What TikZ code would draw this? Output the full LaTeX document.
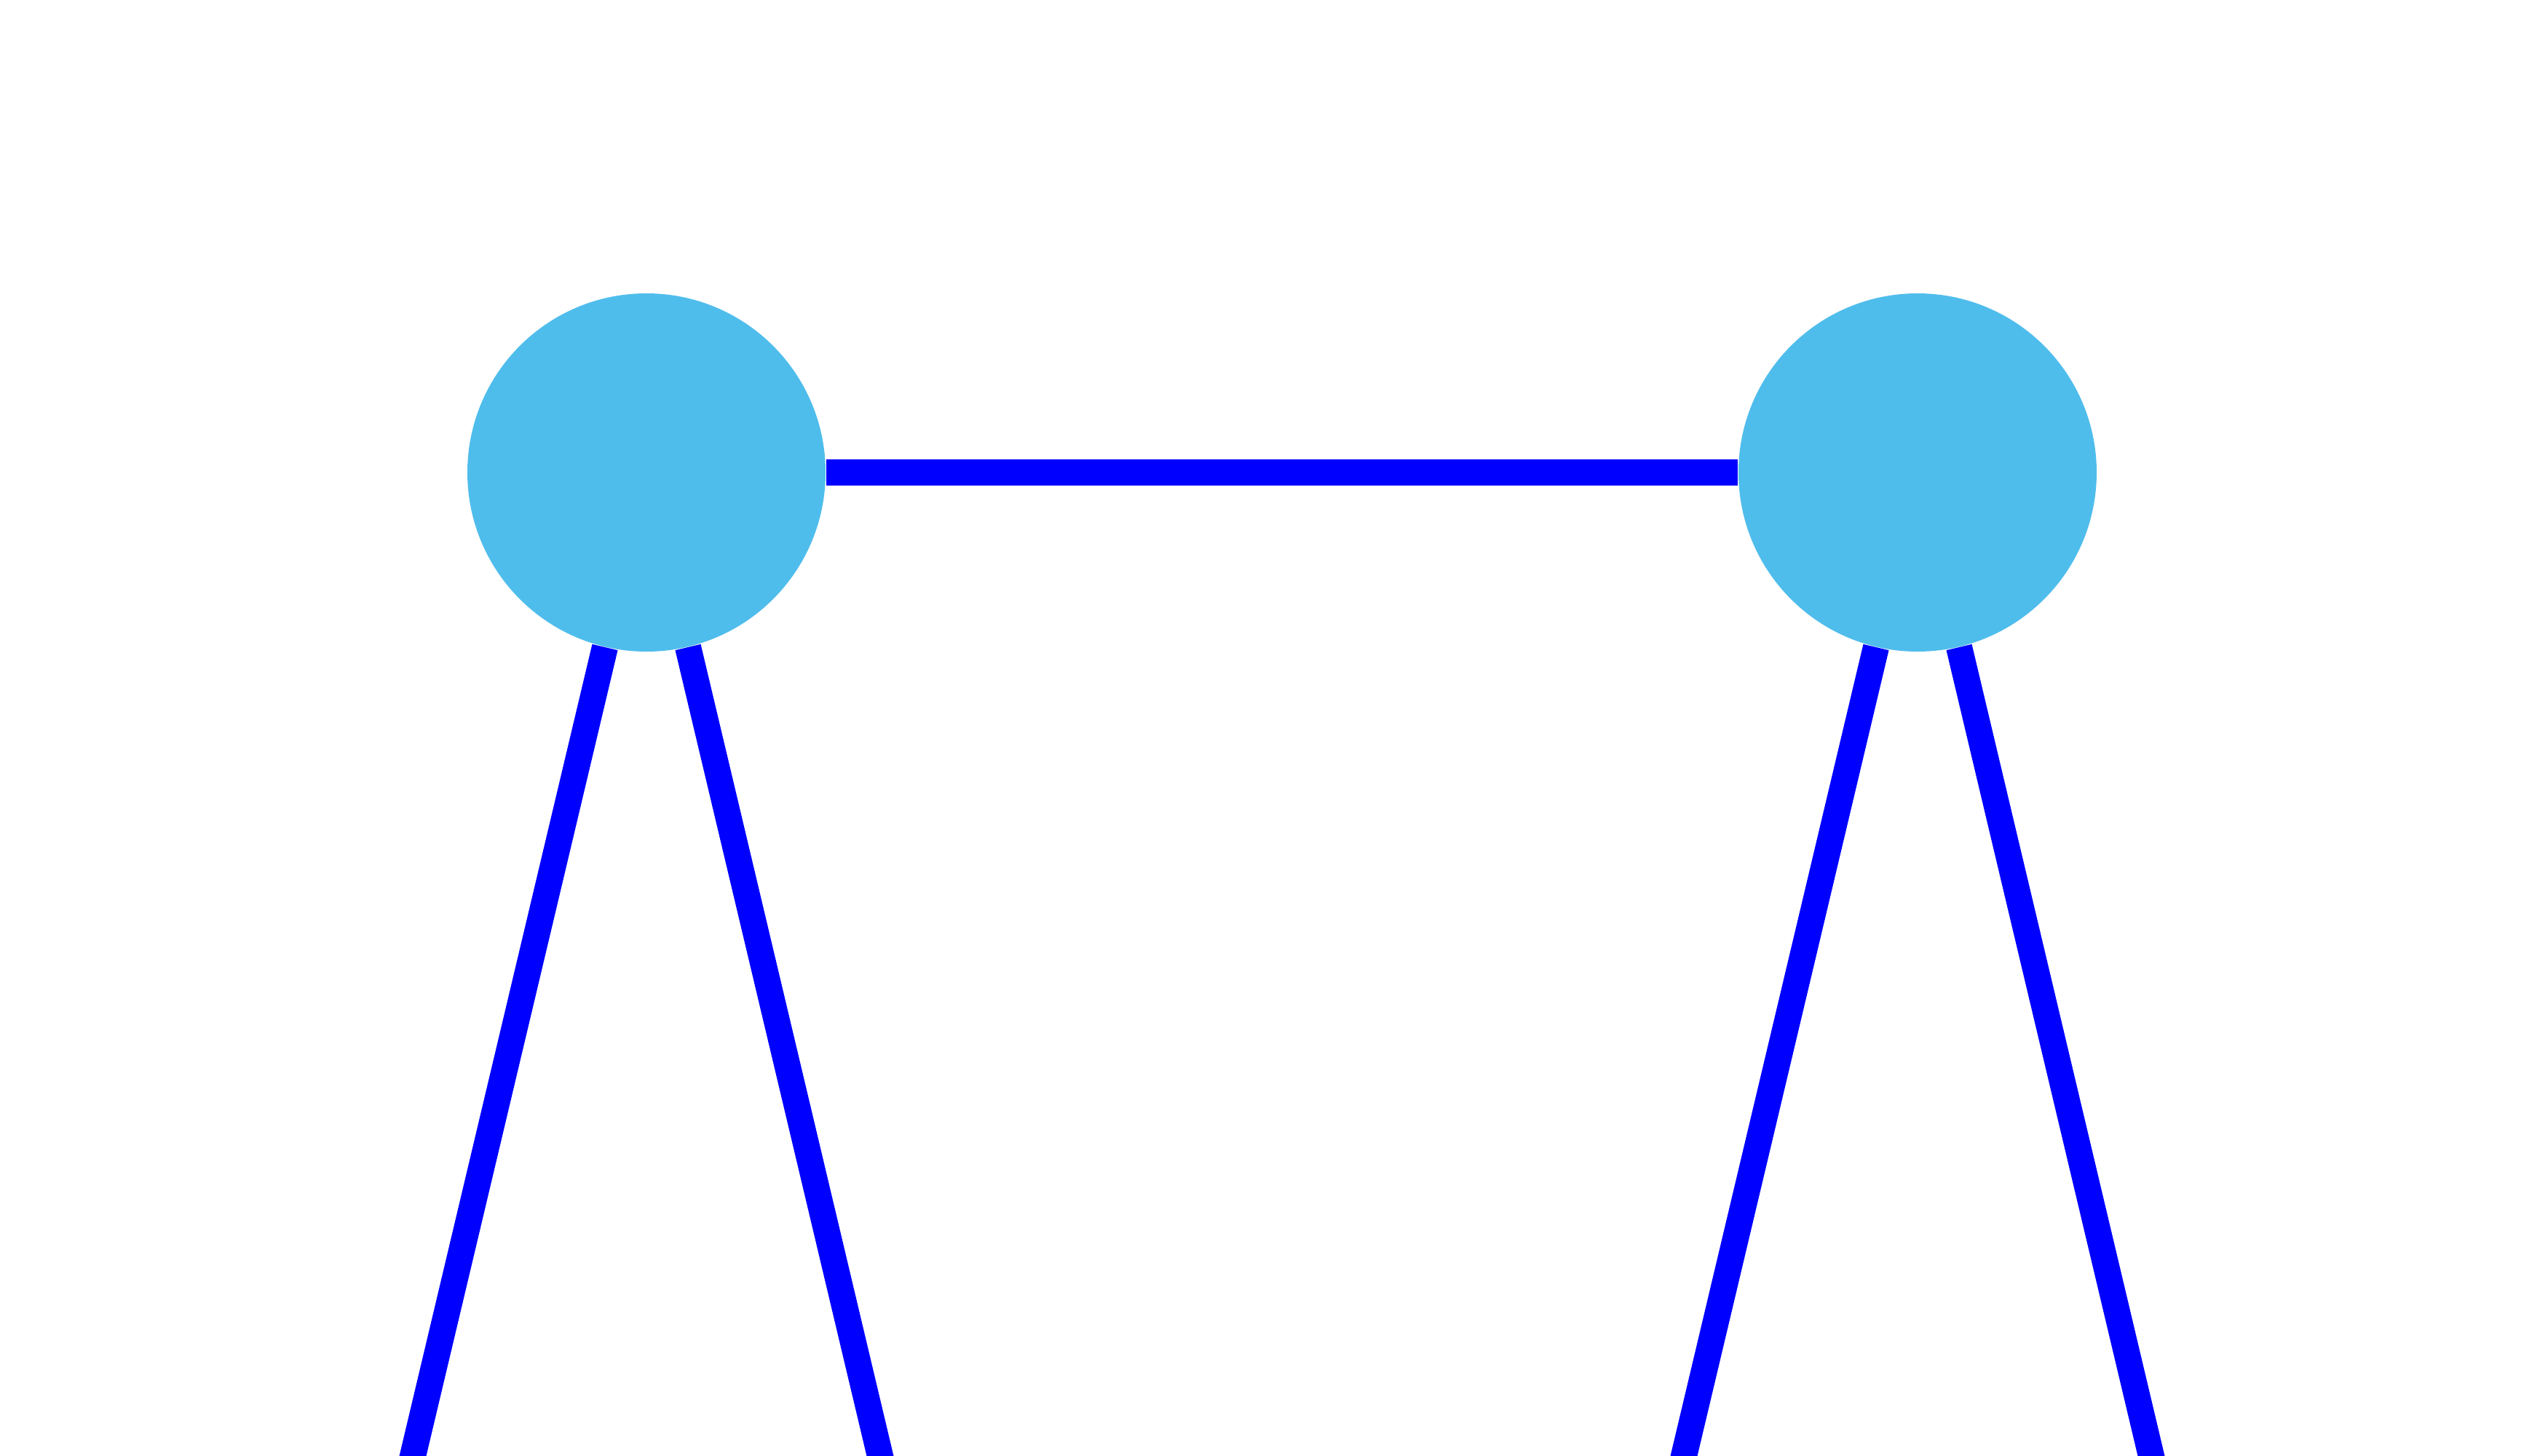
\documentclass[tikz,border=0pt]{standalone}
\usetikzlibrary{calc}
\definecolor{nodefill}{RGB}{79,189,236}
\definecolor{edgeblue}{RGB}{0,0,255}
\tikzset{
  treenode/.style={circle, fill=nodefill, draw=none, inner sep=0pt, minimum size=4.92cm},
  treeedge/.style={draw=edgeblue, line width=0.36cm}
}
\begin{document}
\begin{tikzpicture}
\useasboundingbox (0,0) rectangle (35,-20);
\clip (0,0) rectangle (35,-20);
\node[treenode] (a) at (8.88,-6.49) {};
\node[treenode] (b) at (26.34,-6.49) {};
\coordinate (a1) at ($(a)+(-3.852,-16.212)$);
\coordinate (a2) at ($(a)+(3.852,-16.212)$);
\coordinate (b1) at ($(b)+(-3.852,-16.212)$);
\coordinate (b2) at ($(b)+(3.852,-16.212)$);
\draw[treeedge] (a) -- (b);
\draw[treeedge] (a) -- (a1);
\draw[treeedge] (a) -- (a2);
\draw[treeedge] (b) -- (b1);
\draw[treeedge] (b) -- (b2);
\end{tikzpicture}
\end{document}
